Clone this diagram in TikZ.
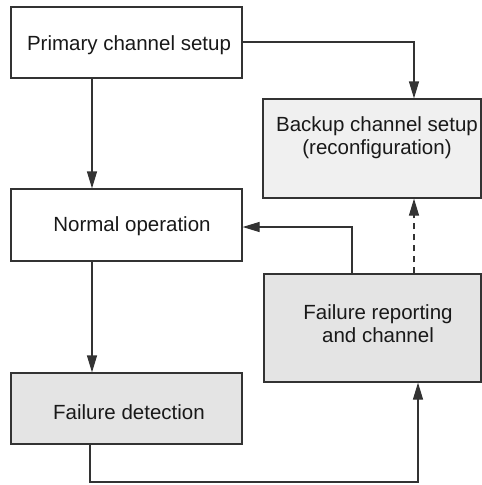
\documentclass[tikz,border=0pt]{standalone}
\usepackage{fontspec}
\setmainfont{Liberation Sans}
\usetikzlibrary{arrows.meta}
\definecolor{edgecol}{HTML}{333333}
\definecolor{lightfill}{HTML}{F0F0F0}
\definecolor{midfill}{HTML}{E4E4E4}
\begin{document}
\begin{tikzpicture}[x=1pt,y=-1pt,
  box/.style={draw=edgecol, line width=1.2pt, rectangle, inner sep=0pt},
  lbl/.style={inner sep=0pt, align=center, font=\fontsize{20.5}{23}\selectfont, text=black!90},
  conn/.style={draw=edgecol, line width=1.2pt, -{Triangle[length=17pt,width=10pt]}},
  dconn/.style={conn, dash pattern=on 6pt off 5pt}
]
\useasboundingbox (0,0) rectangle (482,485);
% boxes
\node[box, fill=white, minimum width=231pt, minimum height=71pt] (P) at (126.5,42.5) {};
\node[box, fill=lightfill, minimum width=218pt, minimum height=99pt] (B) at (372,148.5) {};
\node[box, fill=white, minimum width=231pt, minimum height=72pt] (N) at (126.5,225) {};
\node[box, fill=midfill, minimum width=217pt, minimum height=108pt] (F) at (372.5,328) {};
\node[box, fill=midfill, minimum width=231pt, minimum height=71pt] (D) at (126.5,408.5) {};
% labels
\node[lbl] (Pt) at (129,45) {Primary channel setup};
\node[lbl] (Bt) at (377,138) {Backup channel setup\\(reconfiguration)};
\node[lbl] (Nt) at (132,226) {Normal operation};
\node[lbl] (Ft) at (378,324) {Failure reporting\\and channel};
\node[lbl] (Dt) at (129,412) {Failure detection};
% connectors
\coordinate (c1) at (414,42);
\coordinate (c2) at (90,482);
\coordinate (c3) at (418,482);
\coordinate (c4) at (352,227);
\draw[conn] (P.east |- c1) -- (c1) -- (c1 |- B.north);
\draw[conn] (P.south -| 92,0) -- (N.north -| 92,0);
\draw[conn] (N.south -| 92,0) -- (D.north -| 92,0);
\draw[conn] (D.south -| c2) -- (c2) -- (c3) -- (c3 |- F.south);
\draw[conn] (F.north -| c4) -- (c4) -- (N.east |- c4);
\draw[dconn] (F.north -| c1) -- (B.south -| c1);
\end{tikzpicture}
\end{document}
